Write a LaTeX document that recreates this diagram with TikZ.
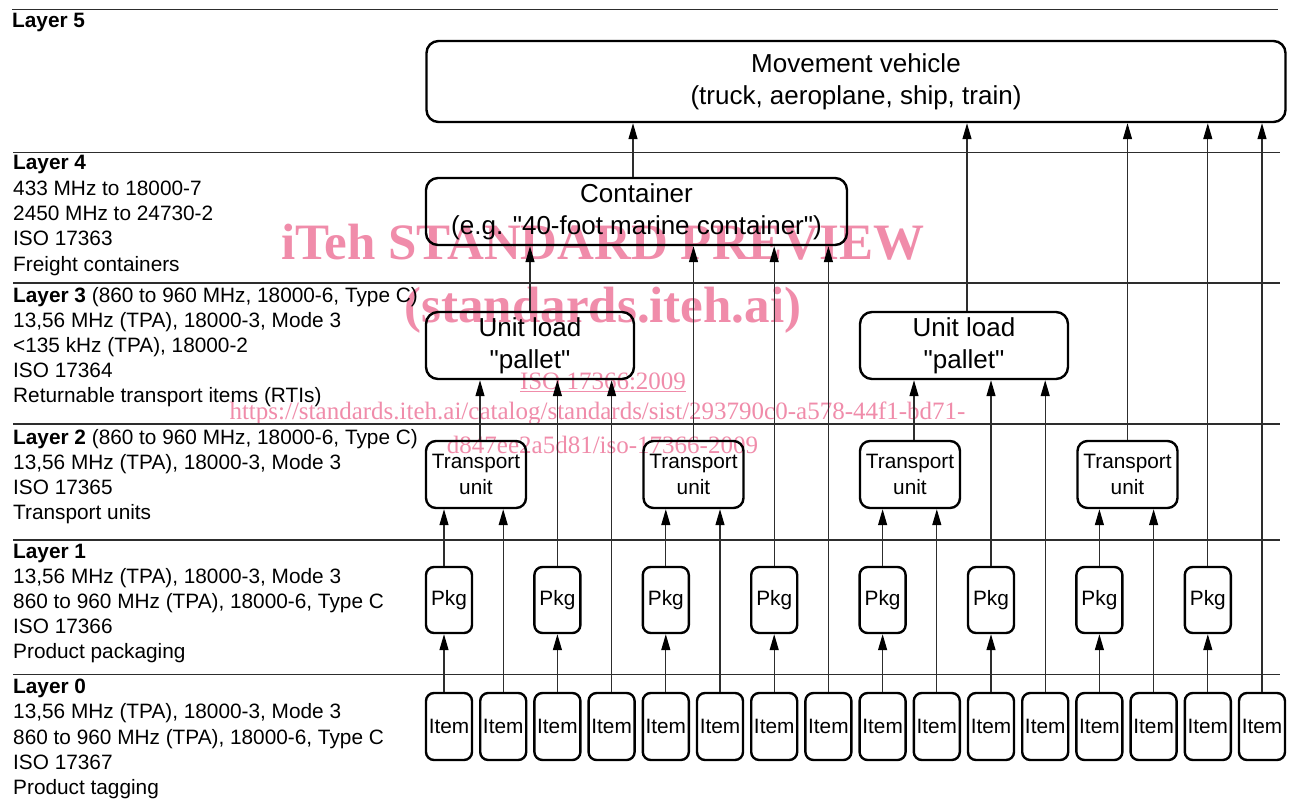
\documentclass[tikz,border=0pt]{standalone}
\usepackage{fontspec}
\setmainfont{Liberation Sans}[Ligatures=TeXOff]
\newfontfamily\wmfont{Liberation Serif}
\usetikzlibrary{arrows.meta}
\definecolor{wmpink}{RGB}{240,140,170}
\definecolor{linegray}{RGB}{45,45,45}
\tikzset{
  box/.style={draw=black, line width=2.4pt, inner sep=0pt, align=center},
  smallfont/.style={font=\fontsize{20.8}{26}\selectfont},
  bigfont/.style={font=\fontsize{26}{32}\selectfont},
  itembox/.style={box, smallfont, rounded corners=8pt, minimum width=46pt, minimum height=67pt},
  pkgbox/.style={box, smallfont, rounded corners=8pt, minimum width=46pt, minimum height=66pt},
  tubox/.style={box, smallfont, rounded corners=10pt, minimum width=100pt, minimum height=67pt},
  ulbox/.style={box, bigfont, rounded corners=12pt, minimum width=208pt, minimum height=67pt},
  contbox/.style={box, bigfont, rounded corners=12pt, minimum width=421pt, minimum height=67pt},
  mvbox/.style={box, bigfont, rounded corners=12pt, minimum width=859pt, minimum height=81pt},
  conn/.style={draw=linegray, line width=1.2pt, -{Triangle[length=16pt,width=9pt,color=black]}},
  sepline/.style={draw=linegray, line width=1.3pt},
  lt/.style={anchor=base west, inner sep=0pt, font=\fontsize{20.8}{25}\selectfont},
  wmbig/.style={anchor=base, inner sep=0pt, text=wmpink, font=\wmfont\bfseries\fontsize{51}{60}\selectfont},
  wmsmall/.style={anchor=base, inner sep=0pt, text=wmpink, font=\wmfont\fontsize{25}{30}\selectfont},
}
\begin{document}
\begin{tikzpicture}[x=1pt,y=-1pt]
\useasboundingbox (0,0) rectangle (1296,805);
\fill[white] (0,0) rectangle (1296,805);

% watermark (underneath)
\node[wmbig] (wm1) at (603,260) {iTeh STANDARD PREVIEW};
\node[wmbig] (wm2) at (603,322) {(standards.iteh.ai)};
\node[wmsmall] (wm3) at (603,389) {\underline{ISO 17366:2009}};
\node[wmsmall] (wm4) at (597.5,419) {https://standards.iteh.ai/catalog/standards/sist/293790c0-a578-44f1-bd71-};
\node[wmsmall] (wm5) at (602.5,453) {d847ee2a5d81/iso-17366-2009};

% layer separators
\draw[sepline] (12,9.5) -- (1278,9.5);
\draw[sepline] (13,152.7) -- (1280,152.7);
\draw[sepline] (13,283) -- (1280,283);
\draw[sepline] (13,424) -- (1280,424);
\draw[sepline] (13,540) -- (1280,540);
\draw[sepline] (13,674.5) -- (1280,674.5);

% layer texts
\node[lt] (l5a) at (12,27.5) {\textbf{Layer 5}};

\node[lt] (l4a) at (13,169.8) {\textbf{Layer 4}};
\node[lt] (l4b) at (13,195.2) {433 MHz to 18000-7};
\node[lt] (l4c) at (13,220.6) {2450 MHz to 24730-2};
\node[lt] (l4d) at (13,246) {ISO 17363};
\node[lt] (l4e) at (13,271.4) {Freight containers};

\node[lt] (l3a) at (13,302.5) {\textbf{Layer 3} (860 to 960 MHz, 18000-6, Type C)};
\node[lt] (l3b) at (13,327.5) {13,56 MHz (TPA), 18000-3, Mode 3};
\node[lt] (l3c) at (13,352.5) {<135 kHz (TPA), 18000-2};
\node[lt] (l3d) at (13,377.5) {ISO 17364};
\node[lt] (l3e) at (13,402.5) {Returnable transport items (RTIs)};

\node[lt] (l2a) at (13,444.5) {\textbf{Layer 2} (860 to 960 MHz, 18000-6, Type C)};
\node[lt] (l2b) at (13,469.5) {13,56 MHz (TPA), 18000-3, Mode 3};
\node[lt] (l2c) at (13,494.5) {ISO 17365};
\node[lt] (l2d) at (13,519.5) {Transport units};

\node[lt] (l1a) at (13,558) {\textbf{Layer 1}};
\node[lt] (l1b) at (13,583) {13,56 MHz (TPA), 18000-3, Mode 3};
\node[lt] (l1c) at (13,608) {860 to 960 MHz (TPA), 18000-6, Type C};
\node[lt] (l1d) at (13,633) {ISO 17366};
\node[lt] (l1e) at (13,658) {Product packaging};

\node[lt] (l0a) at (13,693.5) {\textbf{Layer 0}};
\node[lt] (l0b) at (13,718.5) {13,56 MHz (TPA), 18000-3, Mode 3};
\node[lt] (l0c) at (13,744) {860 to 960 MHz (TPA), 18000-6, Type C};
\node[lt] (l0d) at (13,769) {ISO 17367};
\node[lt] (l0e) at (13,794) {Product tagging};

% boxes
\foreach \i in {1,...,16}{
  \pgfmathsetmacro\xx{449+(\i-1)*54.2}
  \node[itembox] (it\i) at (\xx,726.5) {Item};
}
\foreach \j in {1,...,8}{
  \pgfmathsetmacro\xx{449+(2*\j-2)*54.2}
  \node[pkgbox] (pk\j) at (\xx,600) {Pkg};
}
\node[tubox] (tu1) at (476,474.5) {Transport\\unit};
\node[tubox] (tu2) at (693.5,474.5) {Transport\\unit};
\node[tubox] (tu3) at (910,474.5) {Transport\\unit};
\node[tubox] (tu4) at (1127.5,474.5) {Transport\\unit};
\node[ulbox] (ul1) at (530,345.5) {Unit load\\"pallet"};
\node[ulbox] (ul2) at (964,345.5) {Unit load\\"pallet"};
\node[contbox] (cont) at (636.5,211.5) {Container\\(e.g. "40-foot marine container")};
\node[mvbox] (mv) at (856,81.5) {Movement vehicle\\(truck, aeroplane, ship, train)};

% layer 0 -> layer 1
\draw[conn] ([xshift=-5pt]it1.north) -- ([xshift=-5pt]pk1.south);
\draw[conn] (it3.north) -- (pk2.south);
\draw[conn] (it5.north) -- (pk3.south);
\draw[conn] (it7.north) -- (pk4.south);
\draw[conn] (it9.north) -- (pk5.south);
\draw[conn] (it11.north) -- (pk6.south);
\draw[conn] (it13.north) -- (pk7.south);
\draw[conn] (it15.north) -- (pk8.south);

% -> transport units
\draw[conn] ([xshift=-5pt]pk1.north) -- ([xshift=-5pt]pk1.north |- tu1.south);
\draw[conn] (it2.north) -- (it2.north |- tu1.south);
\draw[conn] (pk3.north) -- (pk3.north |- tu2.south);
\draw[conn] (it6.north) -- (it6.north |- tu2.south);
\draw[conn] (pk5.north) -- (pk5.north |- tu3.south);
\draw[conn] (it10.north) -- (it10.north |- tu3.south);
\draw[conn] (pk7.north) -- (pk7.north |- tu4.south);
\draw[conn] (it14.north) -- (it14.north |- tu4.south);

% -> unit loads
\draw[conn] ([xshift=4pt]tu1.north) -- ([xshift=4pt]tu1.north |- ul1.south);
\draw[conn] (pk2.north) -- (pk2.north |- ul1.south);
\draw[conn] (it4.north) -- (it4.north |- ul1.south);
\draw[conn] ([xshift=4pt]tu3.north) -- ([xshift=4pt]tu3.north |- ul2.south);
\draw[conn] (pk6.north) -- (pk6.north |- ul2.south);
\draw[conn] (it12.north) -- (it12.north |- ul2.south);

% -> container
\draw[conn] (ul1.north) -- (ul1.north |- cont.south);
\draw[conn] (tu2.north) -- (tu2.north |- cont.south);
\draw[conn] (pk4.north) -- (pk4.north |- cont.south);
\draw[conn] (it8.north) -- (it8.north |- cont.south);

% -> movement vehicle
\draw[conn] ([xshift=-3.5pt]cont.north) -- ([xshift=-3.5pt]cont.north |- mv.south);
\draw[conn] ([xshift=3pt]ul2.north) -- ([xshift=3pt]ul2.north |- mv.south);
\draw[conn] (tu4.north) -- (tu4.north |- mv.south);
\draw[conn] (pk8.north) -- (pk8.north |- mv.south);
\draw[conn] (it16.north) -- (it16.north |- mv.south);
\end{tikzpicture}
\end{document}
